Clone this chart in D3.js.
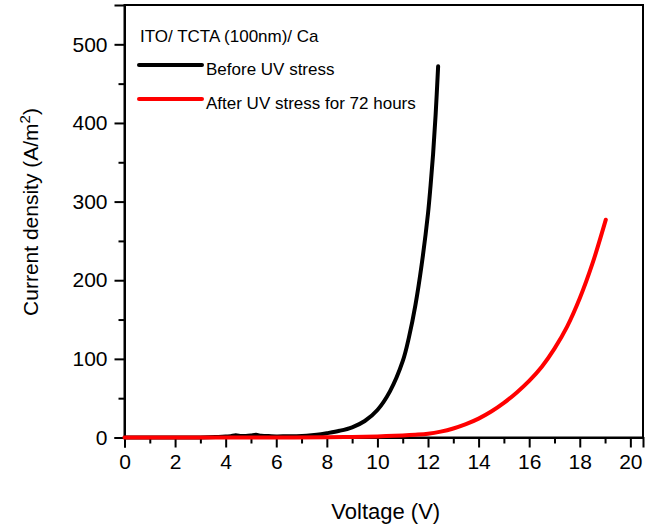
<!DOCTYPE html>
<html>
<head>
<meta charset="utf-8">
<script src="https://cdn.jsdelivr.net/npm/d3@7"></script>
<style>
  html, body { margin: 0; padding: 0; background: #fff; }
  svg { display: block; font-family: "Liberation Sans", Arial, sans-serif; }
</style>
</head>
<body>
<svg id="chart" width="646" height="527"></svg>
<script>
// J–V characteristics: ITO/ TCTA (100nm)/ Ca
const beforeV = [0, 1, 2, 3, 3.6, 4.0, 4.2, 4.4, 4.6, 4.8, 5.0, 5.2, 5.4, 5.6, 5.8, 6.0, 6.4, 6.8, 7.2, 7.6, 8.0, 8.5, 9.0, 9.5, 10.0, 10.5, 11.0, 11.25, 11.5, 11.75, 12.0, 12.1, 12.2, 12.3, 12.4];
const beforeJ = [0, 0, 0, 0, 0.5, 1.2, 1.5, 3.0, 1.8, 2.0, 2.6, 3.4, 2.2, 2.0, 1.6, 1.4, 1.5, 1.6, 2.2, 3.5, 5.5, 8.5, 13, 21, 35, 59, 97, 128, 168, 220, 285, 320, 360, 410, 472];

const afterV = [0, 2, 4, 6, 8, 9, 10, 11, 11.5, 12, 12.5, 13, 13.5, 14, 14.5, 15, 15.5, 16, 16.5, 17, 17.5, 18, 18.5, 19.03];
const afterJ = [0, 0, 0, 0.1, 0.3, 0.7, 1.4, 2.6, 3.5, 4.8, 7.5, 11.5, 17, 24, 33, 44, 57, 72, 90, 113, 141, 177, 221, 277];

const xTicks = [0, 2, 4, 6, 8, 10, 12, 14, 16, 18, 20];
const yTicks = [0, 100, 200, 300, 400, 500];
const legendTitle = "ITO/ TCTA (100nm)/ Ca";
const seriesNames = ["Before UV stress", "After UV stress for 72 hours"];
const seriesColors = ["#000000", "#ff0000"];

const svg = d3.select("#chart");
const plotL = 124.5, plotR = 643, plotT = 5, plotB = 437.5;

const x = d3.scaleLinear().domain([0, 20.5]).range([plotL, plotR]);
const y = d3.scaleLinear().domain([0, 550]).range([plotB, plotT]);

// frame
svg.append("rect")
  .attr("x", plotL).attr("y", plotT)
  .attr("width", plotR - plotL).attr("height", plotB - plotT)
  .attr("fill", "none").attr("stroke", "#000").attr("stroke-width", 2);

// minor tick positions
const minorX = d3.range(1, 21, 2);
const minorY = d3.range(50, 550, 100);

svg.append("g").attr("transform", `translate(0,${plotB})`)
  .call(d3.axisBottom(x).tickValues(xTicks).tickFormat(d3.format("d")).tickSize(10).tickPadding(7));
svg.append("g").attr("transform", `translate(0,${plotB})`)
  .call(d3.axisBottom(x).tickValues(minorX).tickFormat("").tickSize(6))
  .select(".domain").remove();

svg.append("g").attr("transform", `translate(${plotL},0)`)
  .call(d3.axisLeft(y).tickValues(yTicks).tickFormat(d3.format("d")).tickSize(10).tickPadding(7));
svg.append("g").attr("transform", `translate(${plotL},0)`)
  .call(d3.axisLeft(y).tickValues(minorY).tickFormat("").tickSize(6))
  .select(".domain").remove();

svg.selectAll(".domain").attr("stroke-width", 2);
svg.selectAll(".tick line").attr("stroke-width", 2);
svg.selectAll(".tick text").attr("font-size", 21).attr("fill", "#000")
  .attr("font-family", "'Liberation Sans', Arial, sans-serif");

// curves
const line = d3.line().x(d => x(d[0])).y(d => y(d[1])).curve(d3.curveCatmullRom.alpha(0.5));
const series = [
  d3.zip(beforeV, beforeJ),
  d3.zip(afterV, afterJ)
];
series.forEach((pts, i) => {
  svg.append("path")
    .datum(pts)
    .attr("d", line)
    .attr("fill", "none")
    .attr("stroke", seriesColors[i])
    .attr("stroke-width", 4)
    .attr("stroke-linecap", "round")
    .attr("stroke-linejoin", "round");
});

// legend
svg.append("text").attr("x", 140).attr("y", 42).attr("font-size", 17).text(legendTitle);
const legendRows = [65, 99];
seriesNames.forEach((name, i) => {
  svg.append("line")
    .attr("x1", 139).attr("x2", 202)
    .attr("y1", legendRows[i]).attr("y2", legendRows[i])
    .attr("stroke", seriesColors[i]).attr("stroke-width", 4).attr("stroke-linecap", "round");
  svg.append("text").attr("x", 206).attr("y", legendRows[i] + 10)
    .attr("font-size", 17).text(name);
});

// axis titles
svg.append("text")
  .attr("x", (plotL + plotR) / 2 + 2).attr("y", 519)
  .attr("text-anchor", "middle").attr("font-size", 22)
  .text("Voltage (V)");

const yt = svg.append("text")
  .attr("transform", "translate(38,212) rotate(-90)")
  .attr("text-anchor", "middle").attr("font-size", 21);
yt.append("tspan").text("Current density (A/m");
yt.append("tspan").attr("dy", -8).attr("font-size", 15).text("2");
yt.append("tspan").attr("dy", 8).text(")");
</script>
</body>
</html>
